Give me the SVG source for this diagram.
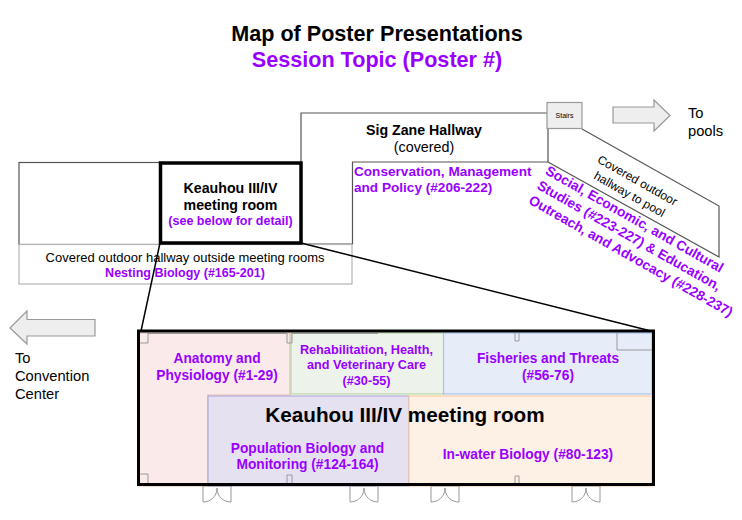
<svg xmlns="http://www.w3.org/2000/svg" width="742" height="520" viewBox="0 0 742 520">
<style>
text{font-family:"Liberation Sans",Arial,sans-serif;text-anchor:middle;fill:#000}
.b{font-weight:bold}
.p{font-weight:bold;fill:#9900ff;font-size:13.75px}
.t{font-size:13px}
.w{fill:none;stroke:#555;stroke-width:1.2}
.arrow{fill:#eeeeee;stroke:#999;stroke-width:1.2}
.l{text-anchor:start;font-size:14.7px}
.s{text-anchor:start}
.d{fill:none;stroke:#999;stroke-width:1}
</style>
<rect width="742" height="520" fill="#fff"/>
<g id="title">
<text x="377" y="41" class="b" font-size="21.6">Map of Poster Presentations</text>
<text x="377" y="67" class="b" font-size="21.6" style="fill:#9900ff">Session Topic (Poster #)</text>
</g>
<g id="hall-left"><rect x="19" y="162.500" width="141" height="82" class="w"/></g>
<g id="sig-zane-hallway">
<path d="M301 162V113H547M548 128V162H352.500V244H301" class="w"/>
<text x="424" y="135" class="b" font-size="14.200">Sig Zane Hallway</text>
<text x="424" y="152" style="font-size:14.300px">(covered)</text>
<text x="354" y="176" class="p s" style="font-size:13.600px">Conservation, Management</text>
<text x="354" y="192" class="p s" style="font-size:13.600px">and Policy (#206-222)</text>
</g>
<g id="outdoor-hallway">
<rect x="19" y="244.500" width="333" height="39.500" fill="#fff" stroke="#b5b5b5" stroke-width="1.200"/>
<text x="185" y="262" class="t">Covered outdoor hallway outside meeting rooms</text>
<text x="185" y="277" class="p" style="font-size:12.500px">Nesting Biology (#165-201)</text>
</g>
<g id="pool-hallway">
<path d="M582 129L719 206V257L548 162" class="w"/>
<g transform="translate(632 190) rotate(29.500)">
<text x="0" y="-7" style="font-size:12px">Covered outdoor</text>
<text x="0" y="9" style="font-size:12px">hallway to pool</text>
</g>
<g transform="translate(544.500 173.500) rotate(29.500)">
<text x="0" y="0" class="p s">Social, Economic, and Cultural</text>
<text x="0" y="17" class="p s">Studies (#223-227) &amp; Education,</text>
<text x="0" y="34" class="p s">Outreach, and Advocacy (#228-237)</text>
</g>
</g>
<g id="stairs">
<rect x="547" y="102.500" width="35" height="26" fill="#eeeeee" stroke="#999" stroke-width="1.200"/>
<text x="564.500" y="118" font-size="7">Stairs</text>
</g>
<g id="to-pools">
<polygon points="613,107 654,107 654,100 670,115.500 654,131 654,123 613,123" class="arrow"/>
<text x="688" y="118" class="l">To</text>
<text x="688" y="136" class="l">pools</text>
</g>
<g id="to-convention">
<polygon points="95,319.500 27,319.500 27,311 10,328 27,344 27,336 95,336" class="arrow"/>
<text x="15" y="363" class="l">To</text>
<text x="15" y="381" class="l">Convention</text>
<text x="15" y="399" class="l">Center</text>
</g>
<g id="room-anatomy">
<polygon points="139,333 290,333 290,395 208,395 208,486 139,486" fill="#faeaea" stroke="#e6b8af" stroke-width="1.200"/>
<text x="217" y="363" class="p">Anatomy and</text>
<text x="217" y="380" class="p">Physiology (#1-29)</text>
</g>
<g id="room-rehab">
<rect x="291" y="333" width="153" height="61" fill="#edf3ea" stroke="#b6d7a8" stroke-width="1.200"/>
<text x="366.500" y="354" class="p" style="font-size:12.700px">Rehabilitation, Health,</text>
<text x="366.500" y="369" class="p" style="font-size:12.700px">and Veterinary Care</text>
<text x="366.500" y="385" class="p" style="font-size:12.700px">(#30-55)</text>
</g>
<g id="room-fisheries">
<rect x="443.500" y="333" width="208.500" height="61" fill="#e6ecf8" stroke="#a4c2f4" stroke-width="1.200"/>
<text x="548" y="363" class="p">Fisheries and Threats</text>
<text x="548" y="380" class="p">(#56-76)</text>
</g>
<g id="room-population">
<rect x="208" y="396" width="201" height="90" fill="#e6e1f1" stroke="#b4a7d6" stroke-width="1.200"/>
<text x="307.500" y="453" class="p">Population Biology and</text>
<text x="307.500" y="469" class="p">Monitoring (#124-164)</text>
</g>
<g id="room-inwater">
<rect x="409" y="396" width="243" height="90" fill="#fdf0e5" stroke="#f9cb9c" stroke-width="1.200"/>
<text x="528" y="459" class="p">In-water Biology (#80-123)</text>
</g>
<g id="details" class="d">
<path d="M139 343H148V333M139 474H148V484M148 483.500H203M287 333V343H292V333M148 333.500H287M292 333.500H378M287 484V475H292V484M232 483.500H348M515 333V341H519V333M515 484V476H519V484M617 333V350H652"/>
<path id="door1" d="M203 486H232M203 486V502C210 502 217 497 217 488C217 497 224 502 231 502V486"/>
<path id="door2" d="M349 486H378M350 486V502C357 502 364 497 364 488C364 497 371 502 378 502V486"/>
<path id="door3" d="M431 486H460M431 486V502C438 502 445 497 445 488C445 497 452 502 459 502V486"/>
<path id="door4" d="M572 486H601M572 486V502C579 502 586 497 586 488C586 497 593 502 600 502V486"/>
</g>
<g id="keauhou-large">
<rect x="138.500" y="331" width="515" height="153.500" fill="none" stroke="#000" stroke-width="3"/>
<text x="405" y="422" class="b" font-size="20.700">Keauhou III/IV meeting room</text>
</g>
<g id="connectors" fill="none" stroke="#000" stroke-width="1.500">
<path d="M160 243L141 331M301 243L651 331"/>
</g>
<g id="keauhou">
<rect x="160.500" y="163" width="140.500" height="80" fill="#fff" stroke="#000" stroke-width="3.500"/>
<text x="230.500" y="193" class="b" font-size="14.200">Keauhou III/IV</text>
<text x="230.500" y="210" class="b" font-size="14.200">meeting room</text>
<text x="230.500" y="225" class="p" style="font-size:12.500px">(see below for detail)</text>
</g>
</svg>
